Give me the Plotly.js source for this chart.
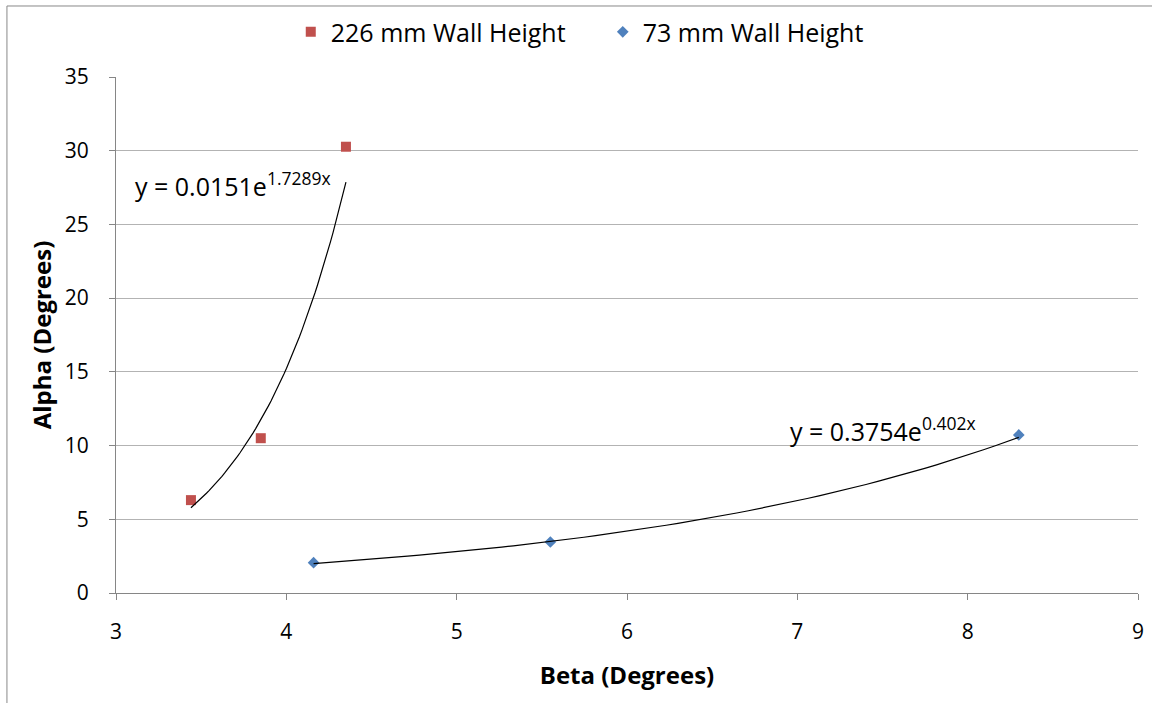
<!DOCTYPE html>
<html>
<head>
<meta charset="utf-8">
<script src="https://cdn.plot.ly/plotly-3.0.1.min.js"></script>
<style>html,body{margin:0;padding:0;background:#fff;}#chart{width:1152px;height:703px;}</style>
</head>
<body>
<div id="chart"></div>
<script>
// Data
const beta226 = [3.44, 3.85, 4.35];
const alpha226 = [6.3, 10.5, 30.27];
const beta73 = [4.16, 5.55, 8.30];
const alpha73 = [2.06, 3.46, 10.72];
// Trendline equations shown on the chart: y = a * e^(b x)
const fit226 = {a: 0.0151, b: 1.7289};
const fit73 = {a: 0.3754, b: 0.402};
const fitLabel226 = 'y = 0.0151e<sup>1.7289x</sup>';
const fitLabel73 = 'y = 0.3754e<sup>0.402x</sup>';

function curve(fit, xs) {
  const x0 = Math.min(...xs), x1 = Math.max(...xs);
  const X = [], Y = [];
  const n = 60;
  for (let i = 0; i <= n; i++) {
    const x = x0 + (x1 - x0) * i / n;
    X.push(x); Y.push(fit.a * Math.exp(fit.b * x));
  }
  return {X, Y};
}
const c226 = curve(fit226, beta226);
const c73 = curve(fit73, beta73);

const font = 'Open Sans, Liberation Sans, sans-serif';
const traces = [
  {x: beta226, y: alpha226, mode: 'markers', type: 'scatter', name: '226 mm Wall Height',
   marker: {symbol: 'square', size: 10, color: '#C0504D'}},
  {x: beta73, y: alpha73, mode: 'markers', type: 'scatter', name: '73 mm Wall Height',
   marker: {symbol: 'diamond', size: 9, color: '#4F81BD'}},
  {x: c226.X, y: c226.Y, mode: 'lines', type: 'scatter', showlegend: false,
   line: {color: '#000', width: 1.2}, hoverinfo: 'skip'},
  {x: c73.X, y: c73.Y, mode: 'lines', type: 'scatter', showlegend: false,
   line: {color: '#000', width: 1.2}, hoverinfo: 'skip'}
];

const layout = {
  width: 1152, height: 703,
  margin: {l: 116, r: 14, t: 77, b: 110, autoexpand: false},
  paper_bgcolor: '#fff', plot_bgcolor: '#fff',
  font: {family: font, color: '#000', size: 21},
  showlegend: true,
  legend: {orientation: 'h', x: 0.171, xanchor: 'left', y: 1.087, yanchor: 'middle',
           font: {size: 25, family: font}, itemwidth: 30, traceorder: 'normal',
           entrywidth: 267, entrywidthmode: 'pixels'},
  xaxis: {range: [3, 9], dtick: 1, tick0: 3, showgrid: false, zeroline: false, automargin: false,
          showline: true, linecolor: '#868686', linewidth: 1,
          ticks: 'outside', ticklen: 6, tickcolor: '#868686', ticklabelstandoff: 14,
          tickfont: {size: 21, family: font},
          title: {text: '<b>Beta (Degrees)</b>', font: {size: 24, family: font}, standoff: 22}},
  yaxis: {range: [0, 35], dtick: 5, showgrid: true, gridcolor: '#b3b3b3', gridwidth: 1,
          zeroline: false, automargin: false, showline: true, linecolor: '#868686', linewidth: 1,
          ticks: 'outside', ticklen: 6, tickcolor: '#868686', ticklabelstandoff: 16,
          tickfont: {size: 21, family: font},
          title: {text: '<b>Alpha (Degrees)</b>', font: {size: 24, family: font}, standoff: 6}},
  annotations: [
    {x: 3.10, y: 27.7, xref: 'x', yref: 'y', text: fitLabel226, showarrow: false,
     xanchor: 'left', yanchor: 'middle', font: {size: 25, family: font}},
    {x: 6.947, y: 11.1, xref: 'x', yref: 'y', text: fitLabel73, showarrow: false,
     xanchor: 'left', yanchor: 'middle', font: {size: 25, family: font}}
  ],
  shapes: [
    {type: 'rect', xref: 'paper', yref: 'paper', x0: -0.1067, x1: 1.03, y0: -0.25, y1: 1.1376,
     line: {color: '#888', width: 1}, fillcolor: 'rgba(0,0,0,0)', layer: 'below'}
  ]
};

Plotly.newPlot('chart', traces, layout, {displayModeBar: false, staticPlot: true});
</script>
</body>
</html>
